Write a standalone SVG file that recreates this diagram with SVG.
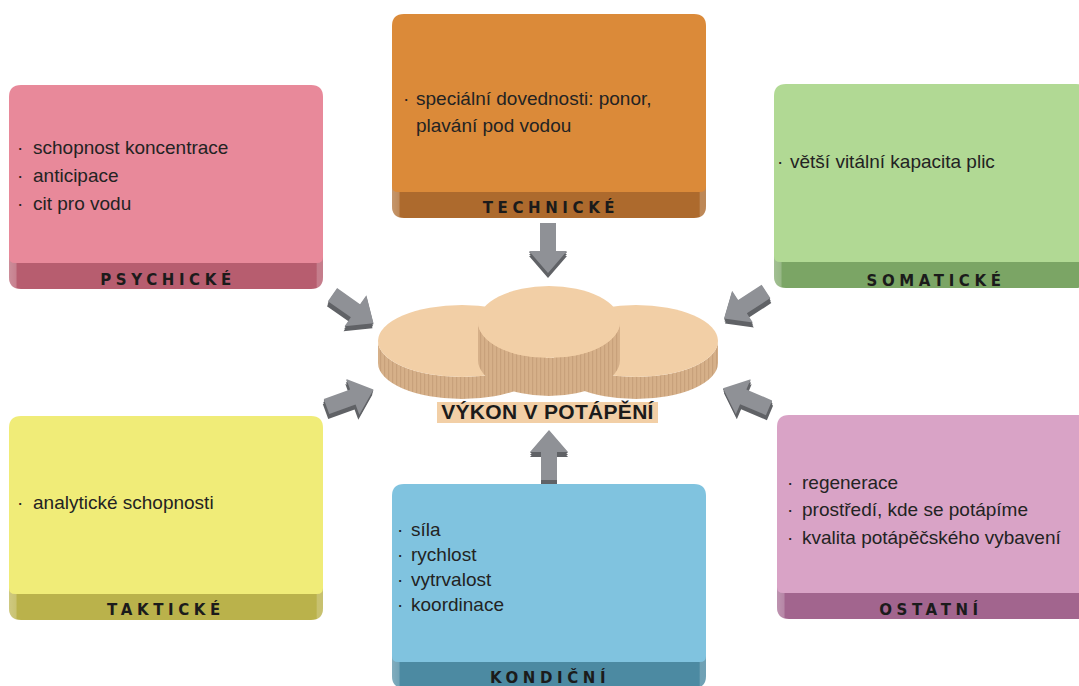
<svg xmlns="http://www.w3.org/2000/svg" xmlns:xlink="http://www.w3.org/1999/xlink" width="1079" height="686" viewBox="0 0 1079 686">
  <defs>
    <style>
      .t { font-family: "Liberation Sans", Arial, sans-serif; font-size: 19px; fill: #232323; }
      .lbl { font-family: "DejaVu Sans", "Liberation Sans", sans-serif; font-size: 15px; font-weight: bold; letter-spacing: 4.6px; text-anchor: middle; fill: #1b1b1b; }
      .title { font-family: "Liberation Sans", Arial, sans-serif; font-size: 21px; font-weight: bold; letter-spacing: 0.3px; text-anchor: middle; fill: #1b1b1b; }
      .arr { fill: #8f9196; }
      .arrDk { fill: #606266; }
      .discTop { fill: #f2cfa6; }
      .discSide { fill: url(#stripes); }
    </style>
    <!-- lighter bevel at both ends of each box's bottom band -->
    <linearGradient id="bevel" x1="0" y1="0" x2="1" y2="0">
      <stop offset="0" stop-color="#fff" stop-opacity="0.3"/>
      <stop offset="0.022" stop-color="#fff" stop-opacity="0.22"/>
      <stop offset="0.026" stop-color="#fff" stop-opacity="0"/>
      <stop offset="0.978" stop-color="#fff" stop-opacity="0"/>
      <stop offset="0.982" stop-color="#fff" stop-opacity="0.2"/>
      <stop offset="1" stop-color="#fff" stop-opacity="0.2"/>
    </linearGradient>
    <!-- striped side wall of the discs -->
    <pattern id="stripes" width="4" height="10" patternUnits="userSpaceOnUse">
      <rect width="4" height="10" fill="#d6b089"/>
      <rect width="1.2" height="10" fill="#c8a17b"/>
    </pattern>
    <!-- card shapes in local coordinates (314 x 204) -->
    <path id="bandShape" d="M0,150 H314 V192 Q314,204 302,204 H12 Q0,204 0,192 Z"/>
    <path id="faceShape" d="M0,12 Q0,0 12,0 H302 Q314,0 314,12 V172 Q314,178 308,178 H6 Q0,178 0,172 Z"/>
    <!-- block arrow pointing along +x, centred on the origin -->
    <polygon id="arrowShape" points="-25,-8 3,-8 3,-19 25,0 3,19 3,8 -25,8"/>
  </defs>

  <rect width="1079" height="686" fill="#ffffff"/>

  <!-- connectors: 3D arrows pointing to the centre -->
  <g id="connectors">
    <g transform="translate(548,248)">
      <use xlink:href="#arrowShape" class="arrDk" transform="translate(0,5) rotate(90)"/>
      <use xlink:href="#arrowShape" class="arrDk" transform="translate(0,3) rotate(90)"/>
      <use xlink:href="#arrowShape" class="arrDk" transform="translate(0,1) rotate(90)"/>
      <use xlink:href="#arrowShape" class="arr" transform="rotate(90)"/>
    </g>
    <g transform="translate(549,455)">
      <use xlink:href="#arrowShape" class="arrDk" transform="translate(0,5) rotate(-90)"/>
      <use xlink:href="#arrowShape" class="arrDk" transform="translate(0,3) rotate(-90)"/>
      <use xlink:href="#arrowShape" class="arrDk" transform="translate(0,1) rotate(-90)"/>
      <use xlink:href="#arrowShape" class="arr" transform="rotate(-90)"/>
    </g>
    <g transform="translate(353,309)">
      <use xlink:href="#arrowShape" class="arrDk" transform="translate(-1,5) rotate(35)"/>
      <use xlink:href="#arrowShape" class="arrDk" transform="translate(-0.5,3) rotate(35)"/>
      <use xlink:href="#arrowShape" class="arrDk" transform="translate(0,1) rotate(35)"/>
      <use xlink:href="#arrowShape" class="arr" transform="rotate(35)"/>
    </g>
    <g transform="translate(350,398)">
      <use xlink:href="#arrowShape" class="arrDk" transform="translate(-1,5) rotate(-20)"/>
      <use xlink:href="#arrowShape" class="arrDk" transform="translate(-0.5,3) rotate(-20)"/>
      <use xlink:href="#arrowShape" class="arrDk" transform="translate(0,1) rotate(-20)"/>
      <use xlink:href="#arrowShape" class="arr" transform="rotate(-20)"/>
    </g>
    <g transform="translate(745,305)">
      <use xlink:href="#arrowShape" class="arrDk" transform="translate(1,5) rotate(147)"/>
      <use xlink:href="#arrowShape" class="arrDk" transform="translate(0.5,3) rotate(147)"/>
      <use xlink:href="#arrowShape" class="arrDk" transform="translate(0,1) rotate(147)"/>
      <use xlink:href="#arrowShape" class="arr" transform="rotate(147)"/>
    </g>
    <g transform="translate(746,398)">
      <use xlink:href="#arrowShape" class="arrDk" transform="translate(1,5) rotate(203)"/>
      <use xlink:href="#arrowShape" class="arrDk" transform="translate(0.5,3) rotate(203)"/>
      <use xlink:href="#arrowShape" class="arrDk" transform="translate(0,1) rotate(203)"/>
      <use xlink:href="#arrowShape" class="arr" transform="rotate(203)"/>
    </g>
  </g>

  <!-- centre: three stacked discs -->
  <g id="vykon">
    <path class="discSide" d="M378,341 V363 A84,36 0 0 0 546,363 V341 A84,36 0 0 1 378,341 Z"/>
    <ellipse class="discTop" cx="462" cy="341" rx="84" ry="36"/>
    <path class="discSide" d="M554,341 V363 A82,36 0 0 0 718,363 V341 A82,36 0 0 1 554,341 Z"/>
    <ellipse class="discTop" cx="636" cy="341" rx="82" ry="36"/>
    <path class="discSide" d="M478,322 V360 A71,36 0 0 0 620,360 V322 A71,36 0 0 1 478,322 Z"/>
    <ellipse class="discTop" cx="549" cy="322" rx="71" ry="36"/>
    <rect x="437" y="402" width="221" height="21" fill="#f2cfa6"/>
    <text class="title" x="547.5" y="419">VÝKON V POTÁPĚNÍ</text>
  </g>

  <!-- factor cards -->
  <g id="psychicke" transform="translate(9,85)">
    <use xlink:href="#bandShape" fill="#b75d6f"/>
    <use xlink:href="#bandShape" fill="url(#bevel)"/>
    <use xlink:href="#faceShape" fill="#e8899a"/>
    <text class="t" x="8" y="69">·</text>
    <text class="t" x="24" y="69">schopnost koncentrace</text>
    <text class="t" x="8" y="97">·</text>
    <text class="t" x="24" y="97">anticipace</text>
    <text class="t" x="8" y="125">·</text>
    <text class="t" x="24" y="125">cit pro vodu</text>
    <text class="lbl" x="159" y="200">PSYCHICKÉ</text>
  </g>

  <g id="technicke" transform="translate(392,14)">
    <use xlink:href="#bandShape" fill="#ad6a2d"/>
    <use xlink:href="#bandShape" fill="url(#bevel)"/>
    <use xlink:href="#faceShape" fill="#db8a39"/>
    <text class="t" x="11" y="91">·</text>
    <text class="t" x="24" y="91">speciální dovednosti: ponor,</text>
    <text class="t" x="24" y="118">plavání pod vodou</text>
    <text class="lbl" x="159" y="199">TECHNICKÉ</text>
  </g>

  <g id="somaticke" transform="translate(774,84)">
    <use xlink:href="#bandShape" fill="#7ba565"/>
    <use xlink:href="#bandShape" fill="url(#bevel)"/>
    <use xlink:href="#faceShape" fill="#b1d994"/>
    <text class="t" x="3" y="84">·</text>
    <text class="t" x="16" y="84">větší vitální kapacita plic</text>
    <text class="lbl" x="162" y="202">SOMATICKÉ</text>
  </g>

  <g id="takticke" transform="translate(9,416)">
    <use xlink:href="#bandShape" fill="#bab24b"/>
    <use xlink:href="#bandShape" fill="url(#bevel)"/>
    <use xlink:href="#faceShape" fill="#f0ec78"/>
    <text class="t" x="8" y="93">·</text>
    <text class="t" x="24" y="93">analytické schopnosti</text>
    <text class="lbl" x="157" y="199">TAKTICKÉ</text>
  </g>

  <g id="kondicni" transform="translate(392,484)">
    <use xlink:href="#bandShape" fill="#4c8aa2"/>
    <use xlink:href="#bandShape" fill="url(#bevel)"/>
    <use xlink:href="#faceShape" fill="#80c3df"/>
    <text class="t" x="5" y="52">·</text>
    <text class="t" x="19" y="52">síla</text>
    <text class="t" x="5" y="77">·</text>
    <text class="t" x="19" y="77">rychlost</text>
    <text class="t" x="5" y="102">·</text>
    <text class="t" x="19" y="102">vytrvalost</text>
    <text class="t" x="5" y="127">·</text>
    <text class="t" x="19" y="127">koordinace</text>
    <text class="lbl" x="158" y="199">KONDIČNÍ</text>
  </g>

  <g id="ostatni" transform="translate(777,415)">
    <use xlink:href="#bandShape" fill="#a2658e"/>
    <use xlink:href="#bandShape" fill="url(#bevel)"/>
    <use xlink:href="#faceShape" fill="#d9a3c6"/>
    <text class="t" x="10" y="74">·</text>
    <text class="t" x="25" y="74">regenerace</text>
    <text class="t" x="10" y="101">·</text>
    <text class="t" x="25" y="101">prostředí, kde se potápíme</text>
    <text class="t" x="10" y="129">·</text>
    <text class="t" x="25" y="129">kvalita potápěčského vybavení</text>
    <text class="lbl" x="154" y="200">OSTATNÍ</text>
  </g>
</svg>
